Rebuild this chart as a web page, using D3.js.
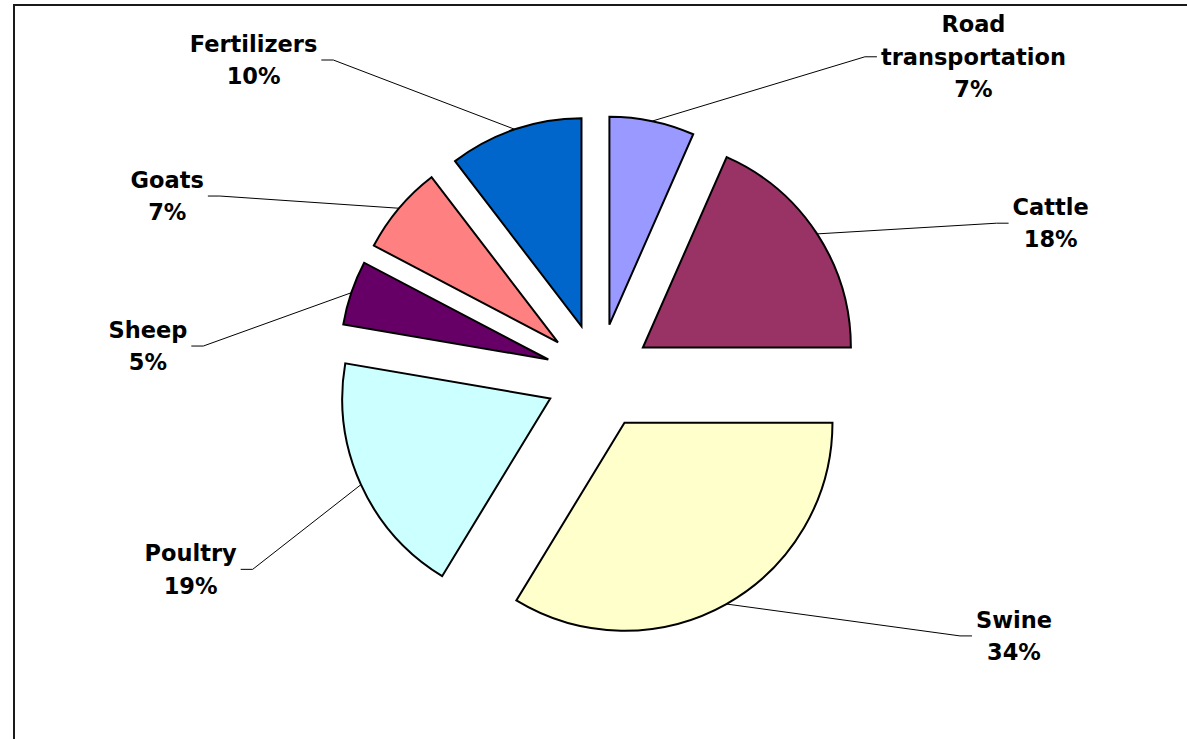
<!DOCTYPE html>
<html>
<head>
<meta charset="utf-8">
<script src="https://cdn.jsdelivr.net/npm/d3@7"></script>
<style>
body { margin: 0; background: #fff; }
text { font-family: "DejaVu Sans", Verdana, sans-serif; font-weight: bold; font-size: 22.5px; fill: #000; }
</style>
</head>
<body>
<div id="vis"></div>
<script>
// set the width and height
var width = 1187;
var height = 739;

// sources, clockwise from 12 o'clock
var categories = ['Road transportation', 'Cattle', 'Swine', 'Poultry', 'Sheep', 'Goats', 'Fertilizers'];
var shares = [6.6, 18.4, 33.7, 19.0, 5.0, 6.9, 10.4];

var palette = ['#9999ff', '#993366', '#ffffcc', '#ccffff', '#660066', '#ff8080', '#0066cc'];

// where each leader line bends, relative to the slice's outer edge (layout only)
var elbows = [
    [212.7, -64.3, 'right'],
    [179.5, -10.7, 'right'],
    [233.6, 31.9, 'right'],
    [-108.3, 84.7, 'left'],
    [-148, 53.3, 'left'],
    [-179.1, -12.2, 'left'],
    [-181.4, -69.3, 'left']
];

var cx = 598.5,
    cy = 376.5,
    radius = 208,
    explode = 53;

var svg = d3.select('#vis')
    .append('svg')
    .attr('width', width)
    .attr('height', height);

// chart frame (runs off the right and bottom of the picture)
svg.append('rect')
    .attr('x', 14)
    .attr('y', 5)
    .attr('width', 1400)
    .attr('height', 900)
    .attr('fill', 'none')
    .attr('stroke', '#1a1a1a')
    .attr('stroke-width', 2);

var colour_scale = d3.scaleOrdinal()
    .domain(categories)
    .range(palette);

var data = categories.map(function(c, i) {
    return { name: c, value: shares[i] };
});
var total = d3.sum(shares);

var pie = d3.pie()
    .sort(null)
    .value(function(d) { return d.value; });

var arc = d3.arc()
    .innerRadius(0)
    .outerRadius(radius);

var slices = pie(data);

function mid(d) {
    return (d.startAngle + d.endAngle) / 2;
}

var g = svg.append('g')
    .attr('transform', 'translate(' + cx + ',' + cy + ')');

g.selectAll('.slice')
    .data(slices)
    .enter()
    .append('path')
    .attr('class', 'slice')
    .attr('transform', function(d) {
        var m = mid(d);
        return 'translate(' + explode * Math.sin(m) + ',' + (-explode * Math.cos(m)) + ')';
    })
    .attr('d', arc)
    .attr('fill', function(d) { return colour_scale(d.data.name); })
    .attr('stroke', '#000')
    .attr('stroke-width', 2)
    .attr('stroke-linejoin', 'miter');

// leader lines and labels
slices.forEach(function(d, i) {
    var m = mid(d);
    var p0 = [(explode + radius) * Math.sin(m), -(explode + radius) * Math.cos(m)];
    var e = elbows[i];
    var p1 = [p0[0] + e[0], p0[1] + e[1]];
    var dir = e[2] === 'right' ? 1 : -1;
    var p2 = [p1[0] + dir * 12, p1[1]];

    g.append('path')
        .attr('d', d3.line()([p0, p1, p2]))
        .attr('fill', 'none')
        .attr('stroke', '#000')
        .attr('stroke-width', 1);

    var lines = d.data.name.split(' ');
    lines.push(Math.round(d.data.value / total * 100) + '%');
    var n = lines.length;

    var label = g.append('text')
        .attr('text-anchor', 'middle');

    var tspans = lines.map(function(t, j) {
        return label.append('tspan')
            .attr('y', p2[1] + 8 + (j - (n - 1) / 2) * 32.5)
            .text(t);
    });

    var maxW = d3.max(tspans, function(t) { return t.node().getComputedTextLength(); });
    var lx = p2[0] + dir * (4 + maxW / 2);
    tspans.forEach(function(t) { t.attr('x', lx); });
});
</script>
</body>
</html>
